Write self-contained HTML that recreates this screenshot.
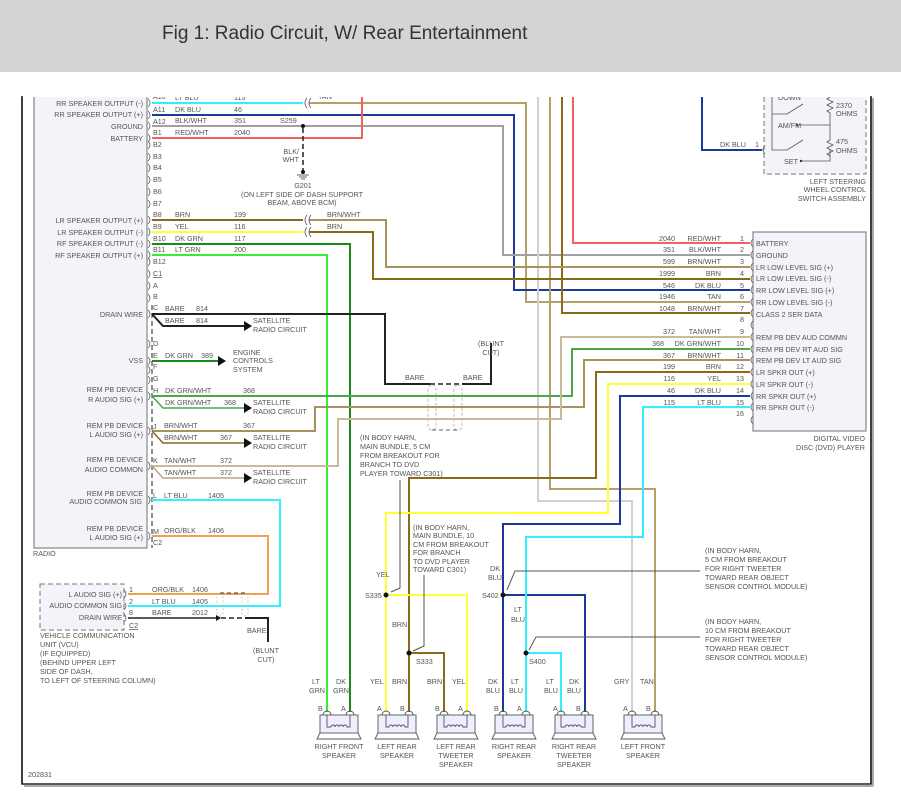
<!DOCTYPE html>
<html><head><meta charset="utf-8"><style>
body{margin:0;background:#fff;}
svg{display:block;font-family:"Liberation Sans",sans-serif;}
text{font-size:7.2px;fill:#555;}
.w{fill:none;stroke-width:2;}
.thin{fill:none;stroke:#555;stroke-width:1;}
.r{text-anchor:end;}
.m{text-anchor:middle;}
</style></head><body>
<svg width="901" height="805" viewBox="0 0 901 805" xmlns="http://www.w3.org/2000/svg">
<rect x="0" y="0" width="901" height="72" fill="#d4d4d4"/>
<text x="162" y="39" style="font-size:19px;fill:#333">Fig 1: Radio Circuit, W/ Rear Entertainment</text>
<rect x="22" y="96" width="849" height="688" fill="#fff" stroke="#222" stroke-width="1.5"/>
<line x1="24" y1="786" x2="873" y2="786" stroke="#aaa" stroke-width="2"/>
<line x1="873" y1="98" x2="873" y2="786" stroke="#aaa" stroke-width="2"/>
<text x="28" y="777">202831</text>

<!-- Radio box -->
<rect x="34" y="96" width="113" height="452" fill="#f3f3fa" stroke="#888" stroke-width="1.2"/>
<text x="33" y="556">RADIO</text>
<line x1="152" y1="305" x2="152" y2="548" stroke="#222" stroke-dasharray="5,3" stroke-width="1"/>
<g class="r">
<text x="143" y="106">RR SPEAKER OUTPUT (-)</text>
<text x="143" y="117">RR SPEAKER OUTPUT (+)</text>
<text x="143" y="129">GROUND</text>
<text x="143" y="141">BATTERY</text>
<text x="143" y="223">LR SPEAKER OUTPUT (+)</text>
<text x="143" y="235">LR SPEAKER OUTPUT (-)</text>
<text x="143" y="246">RF SPEAKER OUTPUT (-)</text>
<text x="143" y="258">RF SPEAKER OUTPUT (+)</text>
<text x="143" y="317">DRAIN WIRE</text>
<text x="143" y="363">VSS</text>
<text x="143" y="392">REM PB DEVICE</text><text x="143" y="402">R AUDIO SIG (+)</text>
<text x="143" y="428">REM PB DEVICE</text><text x="143" y="437">L AUDIO SIG (+)</text>
<text x="143" y="462">REM PB DEVICE</text><text x="143" y="472">AUDIO COMMON</text>
<text x="143" y="496">REM PB DEVICE</text><text x="142" y="504">AUDIO COMMON SIG</text>
<text x="143" y="531">REM PB DEVICE</text><text x="143" y="540">L AUDIO SIG (+)</text>
</g>
<g>
<text x="153" y="99">A10</text><text x="153" y="112">A11</text><text x="153" y="124">A12</text><text x="153" y="135">B1</text>
<text x="153" y="147">B2</text><text x="153" y="159">B3</text><text x="153" y="170">B4</text><text x="153" y="182">B5</text>
<text x="153" y="194">B6</text><text x="153" y="206">B7</text><text x="153" y="217">B8</text><text x="153" y="229">B9</text>
<text x="153" y="241">B10</text><text x="153" y="252">B11</text><text x="153" y="264">B12</text><text x="153" y="276" text-decoration="underline">C1</text>
<text x="153" y="288">A</text><text x="153" y="299">B</text><text x="153" y="310">C</text><text x="153" y="346">D</text>
<text x="153" y="358">E</text><text x="153" y="369">F</text><text x="153" y="381">G</text><text x="153" y="393">H</text>
<text x="153" y="429">J</text><text x="153" y="463">K</text><text x="153" y="498">L</text><text x="153" y="534">M</text>
<text x="153" y="545">C2</text>
</g>
<g fill="none" stroke="#666" stroke-width="0.8">
<path d="M148 99 q4 4 0 8 M148 111 q4 4 0 8 M148 122 q4 4 0 8 M148 134 q4 4 0 8 M148 141 q4 4 0 8 M148 153 q4 4 0 8 M148 164 q4 4 0 8 M148 176 q4 4 0 8 M148 188 q4 4 0 8 M148 200 q4 4 0 8 M148 216 q4 4 0 8 M148 228 q4 4 0 8 M148 240 q4 4 0 8 M148 251 q4 4 0 8 M148 258 q4 4 0 8 M148 270 q4 4 0 8 M148 282 q4 4 0 8 M148 294 q4 4 0 8 M148 310 q4 4 0 8 M148 340 q4 4 0 8 M148 357 q4 4 0 8 M148 366 q4 4 0 8 M148 376 q4 4 0 8 M148 392 q4 4 0 8 M148 427 q4 4 0 8 M148 462 q4 4 0 8 M148 496 q4 4 0 8 M148 532 q4 4 0 8"/>
</g>

<path class="w" stroke="#33eeff" d="M152 103 H303"/>
<path class="w" stroke="#b5a06a" d="M309 103 H526 V302 H750"/>
<path class="w" stroke="#1a3a9a" d="M152 115 H514 V290 H750"/>
<path class="w" stroke="#a0a0a0" d="M152 126 H503 V255 H750"/>
<path class="w" stroke="#f26060" d="M152 138 H362 V97"/>
<path class="w" stroke="#f26060" d="M573 97 V243 H750"/>
<path class="w" stroke="#d0d0d0" d="M538 97 V501 H632 V712"/>
<path class="w" stroke="#b5a06a" d="M550 97 V489 H655 V712"/>
<path class="w" stroke="#8a6a1a" d="M562 97 V313 H750"/>
<path class="w" stroke="#8a6a1a" d="M152 220 H303"/>
<path class="w" stroke="#a89060" d="M309 220 H386 V267 H750"/>
<path class="w" stroke="#ffff33" d="M152 232 H303"/>
<path class="w" stroke="#8a6a1a" d="M309 232 H373 V279 H750"/>
<path class="w" stroke="#1a8a1a" d="M152 244 H350 V712"/>
<path class="w" stroke="#33ee33" d="M152 255 H327 V712"/>
<g fill="none" stroke="#555" stroke-width="0.8">
<path d="M307 98 q-4 5 0 10 M311 98 q-4 5 0 10 M307 215 q-4 5 0 10 M311 215 q-4 5 0 10 M307 227 q-4 5 0 10 M311 227 q-4 5 0 10"/>
</g>
<text x="318" y="99">TAN</text><text x="327" y="217">BRN/WHT</text><text x="327" y="229">BRN</text>
<g>
<text x="175" y="100">LT BLU</text><text x="234" y="100">115</text>
<text x="175" y="112">DK BLU</text><text x="234" y="112">46</text>
<text x="175" y="123">BLK/WHT</text><text x="234" y="123">351</text><text x="280" y="123">S259</text>
<text x="175" y="135">RED/WHT</text><text x="234" y="135">2040</text>
<text x="175" y="217">BRN</text><text x="234" y="217">199</text>
<text x="175" y="229">YEL</text><text x="234" y="229">116</text>
<text x="175" y="241">DK GRN</text><text x="234" y="241">117</text>
<text x="175" y="252">LT GRN</text><text x="234" y="252">200</text>
</g>
<circle cx="303" cy="126" r="2" fill="#111"/>
<line x1="303" y1="128" x2="303" y2="172" stroke="#222" stroke-width="1.5" stroke-dasharray="5,3"/>
<circle cx="303" cy="172" r="2" fill="#111"/>
<path d="M297 175 h12 M299 177 h8 M301 179 h4" stroke="#333" stroke-width="0.8"/>
<text x="299" y="154" class="r">BLK/</text><text x="299" y="162" class="r">WHT</text>
<text x="303" y="188" class="m">G201</text>
<text x="302" y="197" class="m">(ON LEFT SIDE OF DASH SUPPORT</text>
<text x="302" y="205" class="m">BEAM, ABOVE BCM)</text>

<path class="w" stroke="#222" d="M152 314 H385 V384 H430"/>
<path fill="none" stroke="#222" stroke-width="2" d="M462 384 H491 V343"/>
<line x1="430" y1="384" x2="462" y2="384" stroke="#222" stroke-width="1.5" stroke-dasharray="5,3"/>
<text x="405" y="380">BARE</text><text x="463" y="380">BARE</text>
<text x="491" y="346" class="m">(BLUNT</text><text x="491" y="355" class="m">CUT)</text>
<g fill="none" stroke="#aaa" stroke-dasharray="3,2" stroke-width="0.8">
<rect x="428" y="385" width="8" height="45" rx="4"/><rect x="454" y="385" width="8" height="45" rx="4"/>
</g>
<line x1="432" y1="430" x2="458" y2="430" stroke="#666" stroke-dasharray="4,3"/>
<path class="w" stroke="#222" stroke-width="1.5" d="M152 314 L163 326 H245"/>
<path d="M244 321 L252 326 L244 331Z" fill="#111"/>
<text x="165" y="311">BARE</text><text x="196" y="311">814</text>
<text x="165" y="323">BARE</text><text x="196" y="323">814</text>
<text x="253" y="323">SATELLITE</text><text x="253" y="332">RADIO CIRCUIT</text>
<path class="w" stroke="#1a8a1a" d="M152 361 H218"/>
<path d="M218 356 L226 361 L218 366Z" fill="#111"/>
<text x="165" y="358">DK GRN</text><text x="201" y="358">389</text>
<text x="233" y="355">ENGINE</text><text x="233" y="363">CONTROLS</text><text x="233" y="372">SYSTEM</text>
<path class="w" stroke="#4aa84a" d="M152 396 H572 V349 H750"/>
<path fill="none" stroke="#4aa84a" stroke-width="1.5" d="M152 396 L163 408 H245"/>
<path d="M244 403 L252 408 L244 413Z" fill="#111"/>
<text x="165" y="393">DK GRN/WHT</text><text x="243" y="393">368</text>
<text x="165" y="405">DK GRN/WHT</text><text x="224" y="405">368</text>
<text x="253" y="405">SATELLITE</text><text x="253" y="414">RADIO CIRCUIT</text>
<path class="w" stroke="#a89060" d="M152 431 H315 V407 H584 V360 H750"/>
<path fill="none" stroke="#8a6a1a" stroke-width="1.5" d="M152 431 L163 443 H245"/>
<path d="M244 438 L252 443 L244 448Z" fill="#111"/>
<text x="164" y="428">BRN/WHT</text><text x="243" y="428">367</text>
<text x="164" y="440">BRN/WHT</text><text x="220" y="440">367</text>
<text x="253" y="440">SATELLITE</text><text x="253" y="449">RADIO CIRCUIT</text>
<path class="w" stroke="#c9bb9a" d="M152 466 H338 V419 H561 V337 H750"/>
<path fill="none" stroke="#b5a68a" stroke-width="1.5" d="M152 466 L163 478 H245"/>
<path d="M244 473 L252 478 L244 483Z" fill="#111"/>
<text x="164" y="463">TAN/WHT</text><text x="220" y="463">372</text>
<text x="164" y="475">TAN/WHT</text><text x="220" y="475">372</text>
<text x="253" y="475">SATELLITE</text><text x="253" y="484">RADIO CIRCUIT</text>
<path class="w" stroke="#33eeff" d="M152 500 H280 V606 H128"/>
<text x="164" y="498">LT BLU</text><text x="208" y="498">1405</text>
<path class="w" stroke="#f5a050" d="M152 536 H268 V594 H128"/>
<text x="164" y="533">ORG/BLK</text><text x="208" y="533">1406</text>

<rect x="40" y="584" width="84" height="46" fill="#f3f3fa" stroke="#777" stroke-dasharray="5,3"/>
<g class="r"><text x="122" y="597">L AUDIO SIG (+)</text><text x="122" y="608">AUDIO COMMON SIG</text><text x="122" y="620">DRAIN WIRE</text></g>
<g fill="none" stroke="#666" stroke-width="0.8"><path d="M124 590 q4 4 0 8 M124 602 q4 4 0 8 M124 614 q4 4 0 8"/></g>
<text x="129" y="592">1</text><text x="129" y="604">2</text><text x="129" y="615">8</text><text x="129" y="628" text-decoration="underline">C2</text>
<text x="152" y="592">ORG/BLK</text><text x="192" y="592">1406</text>
<text x="152" y="604">LT BLU</text><text x="192" y="604">1405</text>
<text x="152" y="615">BARE</text><text x="192" y="615">2012</text>
<path fill="none" stroke="#222" stroke-width="1.5" d="M128 618 H218"/>
<path d="M216 615 L221 618 L216 621Z" fill="#111"/>
<line x1="221" y1="618" x2="245" y2="618" stroke="#222" stroke-width="1.5" stroke-dasharray="5,3"/>
<path fill="none" stroke="#222" stroke-width="2" d="M245 618 H268 V642"/>
<line x1="220" y1="593" x2="245" y2="593" stroke="#333" stroke-dasharray="4,3"/>
<g fill="none" stroke="#bbb" stroke-dasharray="2,2" stroke-width="0.8"><rect x="217" y="594" width="6" height="22" rx="3"/><rect x="242" y="594" width="6" height="22" rx="3"/></g>
<text x="247" y="633">BARE</text>
<text x="266" y="653" class="m">(BLUNT</text><text x="266" y="662" class="m">CUT)</text>
<text x="40" y="638">VEHICLE COMMUNICATION</text><text x="40" y="647">UNIT (VCU)</text><text x="40" y="656">(IF EQUIPPED)</text>
<text x="40" y="665">(BEHIND UPPER LEFT</text><text x="40" y="674">SIDE OF DASH,</text><text x="40" y="683">TO LEFT OF STEERING COLUMN)</text>

<path class="w" stroke="#8a6a1a" d="M750 372 H596 V478 H409 V712"/>
<path class="w" stroke="#8a6a1a" d="M409 653 H444 V712"/>
<path class="w" stroke="#ffff33" d="M750 384 H608 V513 H386 V712"/>
<path class="w" stroke="#ffff33" d="M386 595 H467 V712"/>
<path class="w" stroke="#1a3a9a" d="M750 396 H620 V524 H503 V712"/>
<path class="w" stroke="#1a3a9a" d="M503 595 H585 V712"/>
<path class="w" stroke="#33eeff" d="M750 407 H643 V537 H526 V712"/>
<path class="w" stroke="#33eeff" d="M526 653 H561 V712"/>
<circle cx="386" cy="595" r="2.5" fill="#111"/><circle cx="409" cy="653" r="2.5" fill="#111"/>
<circle cx="503" cy="595" r="2.5" fill="#111"/><circle cx="526" cy="653" r="2.5" fill="#111"/>
<text x="365" y="598">S335</text><text x="416" y="664">S333</text><text x="482" y="598">S402</text><text x="529" y="664">S400</text>
<text x="376" y="577">YEL</text><text x="392" y="627">BRN</text>
<text x="490" y="571">DK</text><text x="488" y="580">BLU</text>
<text x="514" y="612">LT</text><text x="511" y="622">BLU</text>
<g>
<text x="360" y="440">(IN BODY HARN,</text><text x="360" y="449">MAIN BUNDLE, 5 CM</text><text x="360" y="458">FROM BREAKOUT FOR</text><text x="360" y="467">BRANCH TO DVD</text><text x="360" y="476">PLAYER TOWARD C301)</text>
<text x="413" y="530">(IN BODY HARN,</text><text x="413" y="538">MAIN BUNDLE, 10</text><text x="413" y="547">CM FROM BREAKOUT</text><text x="413" y="555">FOR BRANCH</text><text x="413" y="564">TO DVD PLAYER</text><text x="413" y="572">TOWARD C301)</text>
<text x="705" y="553">(IN BODY HARN,</text><text x="705" y="562">5 CM FROM BREAKOUT</text><text x="705" y="571">FOR RIGHT TWEETER</text><text x="705" y="580">TOWARD REAR OBJECT</text><text x="705" y="589">SENSOR CONTROL MODULE)</text>
<text x="705" y="624">(IN BODY HARN,</text><text x="705" y="633">10 CM FROM BREAKOUT</text><text x="705" y="642">FOR RIGHT TWEETER</text><text x="705" y="651">TOWARD REAR OBJECT</text><text x="705" y="660">SENSOR CONTROL MODULE)</text>
</g>
<path class="thin" d="M400 480 V588 L391 592"/><path class="thin" d="M424 575 V646 L413 651"/>
<path class="thin" d="M700 571 H515 L507 590"/><path class="thin" d="M700 637 H536 L529 650"/>

<rect x="753" y="232" width="113" height="199" fill="#f3f3fa" stroke="#888" stroke-width="1.2"/>
<g fill="none" stroke="#666" stroke-width="0.8">
<path d="M753 239 q-4 4 0 8 M753 251 q-4 4 0 8 M753 263 q-4 4 0 8 M753 275 q-4 4 0 8 M753 286 q-4 4 0 8 M753 298 q-4 4 0 8 M753 309 q-4 4 0 8 M753 321 q-4 4 0 8 M753 333 q-4 4 0 8 M753 345 q-4 4 0 8 M753 356 q-4 4 0 8 M753 368 q-4 4 0 8 M753 380 q-4 4 0 8 M753 392 q-4 4 0 8 M753 403 q-4 4 0 8 M753 416 q-4 4 0 8"/>
</g>
<g>
<text x="756" y="246">BATTERY</text><text x="756" y="258">GROUND</text><text x="756" y="270">LR LOW LEVEL SIG (+)</text><text x="756" y="281">LR LOW LEVEL SIG (-)</text>
<text x="756" y="293">RR LOW LEVEL SIG (+)</text><text x="756" y="305">RR LOW LEVEL SIG (-)</text><text x="756" y="317">CLASS 2 SER DATA</text>
<text x="756" y="340">REM PB DEV AUD COMMN</text><text x="756" y="352">REM PB DEV RT AUD SIG</text><text x="756" y="363">REM PB DEV LT AUD SIG</text>
<text x="756" y="375">LR SPKR OUT (+)</text><text x="756" y="387">LR SPKR OUT (-)</text><text x="756" y="399">RR SPKR OUT (+)</text><text x="756" y="410">RR SPKR OUT (-)</text>
</g>
<g class="r">
<text x="675" y="241">2040</text><text x="721" y="241">RED/WHT</text><text x="744" y="241">1</text>
<text x="675" y="252">351</text><text x="721" y="252">BLK/WHT</text><text x="744" y="252">2</text>
<text x="675" y="264">599</text><text x="721" y="264">BRN/WHT</text><text x="744" y="264">3</text>
<text x="675" y="276">1999</text><text x="721" y="276">BRN</text><text x="744" y="276">4</text>
<text x="675" y="288">546</text><text x="721" y="288">DK BLU</text><text x="744" y="288">5</text>
<text x="675" y="299">1946</text><text x="721" y="299">TAN</text><text x="744" y="299">6</text>
<text x="675" y="311">1048</text><text x="721" y="311">BRN/WHT</text><text x="744" y="311">7</text>
<text x="744" y="322">8</text>
<text x="675" y="334">372</text><text x="721" y="334">TAN/WHT</text><text x="744" y="334">9</text>
<text x="664" y="346">368</text><text x="721" y="346">DK GRN/WHT</text><text x="744" y="346">10</text>
<text x="675" y="358">367</text><text x="721" y="358">BRN/WHT</text><text x="744" y="358">11</text>
<text x="675" y="369">199</text><text x="721" y="369">BRN</text><text x="744" y="369">12</text>
<text x="675" y="381">116</text><text x="721" y="381">YEL</text><text x="744" y="381">13</text>
<text x="675" y="393">46</text><text x="721" y="393">DK BLU</text><text x="744" y="393">14</text>
<text x="675" y="405">115</text><text x="721" y="405">LT BLU</text><text x="744" y="405">15</text>
<text x="744" y="416">16</text>
<text x="865" y="441">DIGITAL VIDEO</text><text x="865" y="450">DISC (DVD) PLAYER</text>
</g>

<path class="w" stroke="#1a3a9a" d="M702 97 V150 H762"/>
<text x="720" y="147">DK BLU</text><text x="755" y="147">1</text>
<rect x="764" y="90" width="102" height="84" fill="#f3f3fa" stroke="#777" stroke-dasharray="5,3"/>
<path d="M765 146 q-4 4 0 8" fill="none" stroke="#555" stroke-width="0.8"/>
<g fill="none" stroke="#555" stroke-width="0.8">
<path d="M772 97 V150 H787 L803 140 M772 114 H787 L803 104"/>
<path d="M797 125 H830 M801 161 H830 V150 M830 97 l-3 2 6 3 -6 3 6 3 -6 3 3 2 V140 l-3 2 6 3 -6 3 6 3 -6 3 3 2"/>
</g>
<circle cx="797" cy="125" r="1.2" fill="#333"/><circle cx="801" cy="161" r="1.2" fill="#333"/>
<text x="778" y="100">DOWN</text><text x="778" y="128">AM/FM</text><text x="784" y="164">SET</text>
<text x="836" y="108">2370</text><text x="836" y="116">OHMS</text><text x="836" y="144">475</text><text x="836" y="153">OHMS</text>
<g class="r"><text x="866" y="184">LEFT STEERING</text><text x="866" y="192">WHEEL CONTROL</text><text x="866" y="201">SWITCH ASSEMBLY</text></g>
<rect x="20" y="72" width="862" height="25" fill="#fff"/>
<line x1="22" y1="96" x2="22" y2="784" stroke="#222" stroke-width="1.5"/>
<line x1="871" y1="96" x2="871" y2="784" stroke="#222" stroke-width="1.5"/>

<g fill="#eef" stroke="#555" stroke-width="0.9">
<rect x="320" y="715" width="38" height="18"/><rect x="378" y="715" width="38" height="18"/><rect x="437" y="715" width="38" height="18"/>
<rect x="495" y="715" width="38" height="18"/><rect x="555" y="715" width="38" height="18"/><rect x="624" y="715" width="38" height="18"/>
</g>
<g fill="none" stroke="#555" stroke-width="0.9">
<path d="M320 733 l-3 6 h44 l-3 -6 M378 733 l-3 6 h44 l-3 -6 M437 733 l-3 6 h44 l-3 -6 M495 733 l-3 6 h44 l-3 -6 M555 733 l-3 6 h44 l-3 -6 M624 733 l-3 6 h44 l-3 -6"/>
<path d="M327 715 v12 h4 a2 2 0 0 1 4 0 a2 2 0 0 1 4 0 a2 2 0 0 1 4 0 a2 2 0 0 1 4 0 h3 v-12"/>
<path d="M386 715 v12 h3 a2 2 0 0 1 4 0 a2 2 0 0 1 4 0 a2 2 0 0 1 4 0 a2 2 0 0 1 4 0 h3 v-12"/>
<path d="M444 715 v12 h3 a2 2 0 0 1 4 0 a2 2 0 0 1 4 0 a2 2 0 0 1 4 0 a2 2 0 0 1 4 0 h4 v-12"/>
<path d="M503 715 v12 h3 a2 2 0 0 1 4 0 a2 2 0 0 1 4 0 a2 2 0 0 1 4 0 a2 2 0 0 1 4 0 h3 v-12"/>
<path d="M561 715 v12 h4 a2 2 0 0 1 4 0 a2 2 0 0 1 4 0 a2 2 0 0 1 4 0 a2 2 0 0 1 4 0 h4 v-12"/>
<path d="M632 715 v12 h3 a2 2 0 0 1 4 0 a2 2 0 0 1 4 0 a2 2 0 0 1 4 0 a2 2 0 0 1 4 0 h4 v-12"/>
<path d="M323 715 a4 4 0 0 1 8 0 M346 715 a4 4 0 0 1 8 0 M382 715 a4 4 0 0 1 8 0 M405 715 a4 4 0 0 1 8 0 M440 715 a4 4 0 0 1 8 0 M463 715 a4 4 0 0 1 8 0 M499 715 a4 4 0 0 1 8 0 M522 715 a4 4 0 0 1 8 0 M557 715 a4 4 0 0 1 8 0 M581 715 a4 4 0 0 1 8 0 M628 715 a4 4 0 0 1 8 0 M651 715 a4 4 0 0 1 8 0"/>
</g>
<g>
<text x="318" y="711">B</text><text x="341" y="711">A</text><text x="377" y="711">A</text><text x="400" y="711">B</text>
<text x="435" y="711">B</text><text x="458" y="711">A</text><text x="494" y="711">B</text><text x="517" y="711">A</text>
<text x="553" y="711">A</text><text x="576" y="711">B</text><text x="623" y="711">A</text><text x="646" y="711">B</text>
<text x="312" y="684">LT</text><text x="309" y="693">GRN</text><text x="336" y="684">DK</text><text x="333" y="693">GRN</text>
<text x="370" y="684">YEL</text><text x="392" y="684">BRN</text><text x="427" y="684">BRN</text><text x="452" y="684">YEL</text>
<text x="488" y="684">DK</text><text x="486" y="693">BLU</text><text x="511" y="684">LT</text><text x="509" y="693">BLU</text>
<text x="546" y="684">LT</text><text x="544" y="693">BLU</text><text x="569" y="684">DK</text><text x="567" y="693">BLU</text>
<text x="614" y="684">GRY</text><text x="640" y="684">TAN</text>
</g>
<g class="m">
<text x="339" y="749">RIGHT FRONT</text><text x="339" y="758">SPEAKER</text>
<text x="397" y="749">LEFT REAR</text><text x="397" y="758">SPEAKER</text>
<text x="456" y="749">LEFT REAR</text><text x="456" y="758">TWEETER</text><text x="456" y="767">SPEAKER</text>
<text x="514" y="749">RIGHT REAR</text><text x="514" y="758">SPEAKER</text>
<text x="574" y="749">RIGHT REAR</text><text x="574" y="758">TWEETER</text><text x="574" y="767">SPEAKER</text>
<text x="643" y="749">LEFT FRONT</text><text x="643" y="758">SPEAKER</text>
</g>
</svg>
</body></html>
